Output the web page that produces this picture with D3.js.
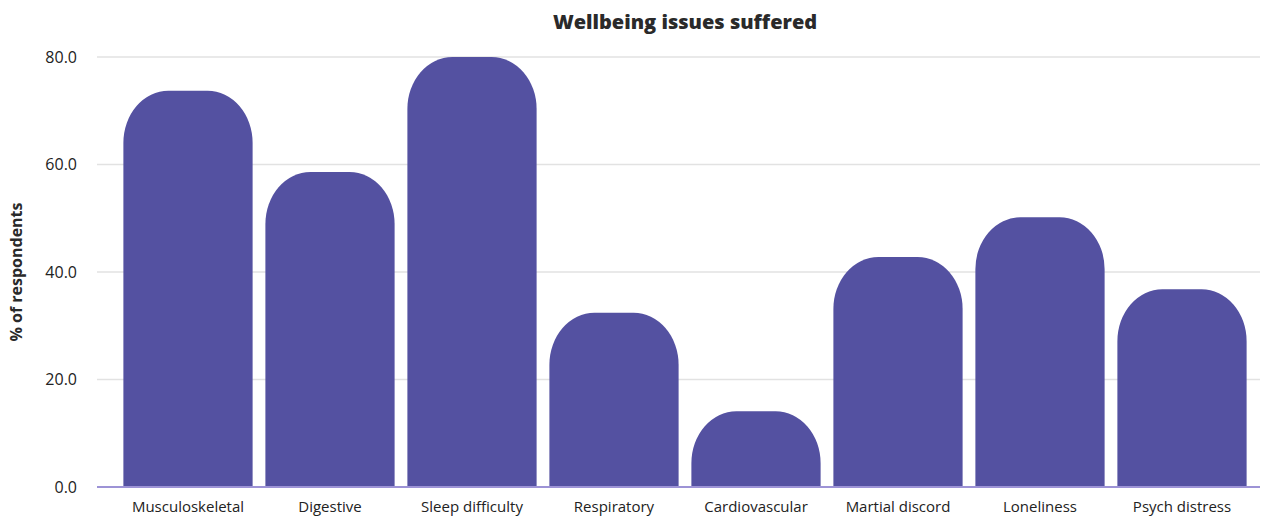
<!DOCTYPE html>
<html>
<head>
<meta charset="utf-8">
<script src="https://cdn.jsdelivr.net/npm/d3@7"></script>
<style>
	body { margin: 0; background: #fff; }
	text { font-family: "Open Sans", "Lato", sans-serif; fill: #333; }
</style>
</head>
<body>
<div id="chart"></div>
<script>
//////// DATA ////////
var categories = ["Musculoskeletal", "Digestive", "Sleep difficulty", "Respiratory",
	"Cardiovascular", "Martial discord", "Loneliness", "Psych distress"];
var values = [73.7, 58.6, 80.0, 32.4, 14.1, 42.8, 50.2, 36.8];
var yTicks = [0, 20, 40, 60, 80];

var width = 1269, height = 517;
var margin = {top: 57, right: 9, bottom: 30, left: 97};

//////// SCALES ////////
var x = d3.scaleBand()
	.domain(categories)
	.range([117, 1253])
	.paddingInner(0.09)
	.paddingOuter(0.045);

var y = d3.scaleLinear()
	.domain([0, 80])
	.range([height - margin.bottom, margin.top]);

//////// CANVAS ////////
var svg = d3.select("#chart").append("svg")
	.attr("width", width)
	.attr("height", height);

// gridlines
svg.append("g")
	.selectAll("line")
	.data(yTicks.slice(1))
	.enter().append("line")
	.attr("x1", margin.left)
	.attr("x2", width - margin.right)
	.attr("y1", function(d) { return y(d); })
	.attr("y2", function(d) { return y(d); })
	.style("stroke", "#e2e2e2")
	.style("stroke-width", 1.5);

// y axis labels
var yAxis = d3.axisLeft(y)
	.tickValues(yTicks)
	.tickFormat(d3.format(".1f"))
	.tickSize(0)
	.tickPadding(0);

svg.append("g")
	.attr("transform", "translate(77,0)")
	.call(yAxis)
	.call(function(g) { g.select(".domain").remove(); })
	.selectAll("text")
	.style("font-size", "16px")
	.style("font-family", "'Open Sans', sans-serif")
	.style("fill", "#222");

// bars with rounded tops
var rx = 45, ry = 52;
function barPath(d, i) {
	var x0 = x(categories[i]), x1 = x0 + x.bandwidth();
	var top = y(d), base = y(0);
	var r = Math.min(ry, base - top);
	return "M" + x0 + "," + base +
		"L" + x0 + "," + (top + r) +
		"A" + rx + "," + r + " 0 0 1 " + (x0 + rx) + "," + top +
		"L" + (x1 - rx) + "," + top +
		"A" + rx + "," + r + " 0 0 1 " + x1 + "," + (top + r) +
		"L" + x1 + "," + base + "Z";
}

svg.append("g")
	.selectAll("path")
	.data(values)
	.enter().append("path")
	.attr("d", barPath)
	.style("fill", "#5451a1");

// baseline
svg.append("line")
	.attr("x1", margin.left)
	.attr("x2", width - margin.right)
	.attr("y1", y(0))
	.attr("y2", y(0))
	.style("stroke", "#9d93d6")
	.style("stroke-width", 2);

// x axis labels
var xAxis = d3.axisBottom(x).tickSize(0).tickPadding(0);
svg.append("g")
	.attr("transform", "translate(0," + (y(0) + 11) + ")")
	.call(xAxis)
	.call(function(g) { g.select(".domain").remove(); })
	.selectAll("text")
	.attr("dy", "0.9em")
	.style("font-size", "15px")
	.style("font-family", "'Open Sans', sans-serif")
	.style("fill", "#222");

// title
svg.append("text")
	.attr("x", 685)
	.attr("y", 29)
	.attr("text-anchor", "middle")
	.style("font-size", "20px")
	.style("font-weight", "800")
	.style("fill", "#2a2a2a")
	.text("Wellbeing issues suffered");

// y axis title
svg.append("text")
	.attr("transform", "translate(22,272) rotate(-90)")
	.attr("text-anchor", "middle")
	.style("font-size", "16px")
	.style("font-weight", "bold")
	.style("fill", "#2a2a2a")
	.text("% of respondents");
</script>
</body>
</html>
